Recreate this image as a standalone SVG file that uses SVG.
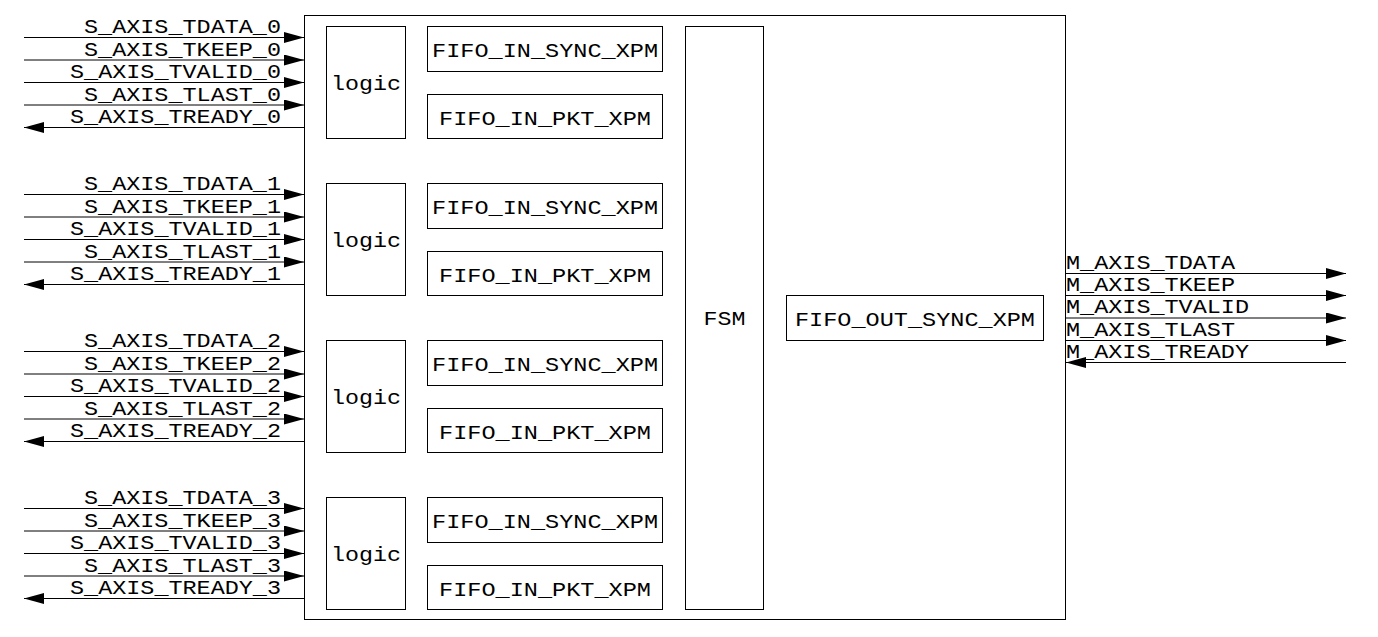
<svg xmlns="http://www.w3.org/2000/svg" width="1378" height="637" viewBox="0 0 1378 637">
<style>
.b{fill:#fff;stroke:#000;stroke-width:1}
.w{fill:none;stroke:#000;stroke-width:1}
text{font-family:"Liberation Mono","DejaVu Sans Mono",monospace;font-size:20px;fill:#000}
.e{text-anchor:end}
.m{text-anchor:middle}
</style>
<defs>
<marker id="ah" viewBox="0 0 20 11" refX="20" refY="5.5" markerWidth="20" markerHeight="11" markerUnits="userSpaceOnUse" orient="auto">
<path d="M0,0 L20,5.5 L0,11 z" fill="#000"/>
</marker>
</defs>
<rect width="1378" height="637" fill="#fff"/>
<g id="top">
<rect class="b" x="304.5" y="15.5" width="761" height="604"/>
</g>
<g id="connectors">
<g class="w" marker-end="url(#ah)">
<path d="M24,37.5 H304"/><path d="M24,60 H304"/><path d="M24,82.5 H304"/><path d="M24,105 H304"/><path d="M304,127.5 H24"/>
<path d="M24,194.5 H304"/><path d="M24,217 H304"/><path d="M24,239.5 H304"/><path d="M24,262 H304"/><path d="M304,284.5 H24"/>
<path d="M24,351.5 H304"/><path d="M24,374 H304"/><path d="M24,396.5 H304"/><path d="M24,419 H304"/><path d="M304,441.5 H24"/>
<path d="M24,508.5 H304"/><path d="M24,531 H304"/><path d="M24,553.5 H304"/><path d="M24,576 H304"/><path d="M304,598.5 H24"/>
<path d="M1066,273.5 H1346"/><path d="M1066,295.5 H1346"/><path d="M1066,318 H1346"/><path d="M1066,340.5 H1346"/><path d="M1346,362.5 H1066"/>
</g>
</g>
<g id="labels">
<text class="e" x="281" y="33" textLength="197" lengthAdjust="spacingAndGlyphs">S_AXIS_TDATA_0</text>
<text class="e" x="281" y="55.5" textLength="197" lengthAdjust="spacingAndGlyphs">S_AXIS_TKEEP_0</text>
<text class="e" x="281" y="78" textLength="211" lengthAdjust="spacingAndGlyphs">S_AXIS_TVALID_0</text>
<text class="e" x="281" y="100.5" textLength="197" lengthAdjust="spacingAndGlyphs">S_AXIS_TLAST_0</text>
<text class="e" x="281" y="123" textLength="211" lengthAdjust="spacingAndGlyphs">S_AXIS_TREADY_0</text>
<text class="e" x="281" y="190" textLength="197" lengthAdjust="spacingAndGlyphs">S_AXIS_TDATA_1</text>
<text class="e" x="281" y="212.5" textLength="197" lengthAdjust="spacingAndGlyphs">S_AXIS_TKEEP_1</text>
<text class="e" x="281" y="235" textLength="211" lengthAdjust="spacingAndGlyphs">S_AXIS_TVALID_1</text>
<text class="e" x="281" y="257.5" textLength="197" lengthAdjust="spacingAndGlyphs">S_AXIS_TLAST_1</text>
<text class="e" x="281" y="280" textLength="211" lengthAdjust="spacingAndGlyphs">S_AXIS_TREADY_1</text>
<text class="e" x="281" y="347" textLength="197" lengthAdjust="spacingAndGlyphs">S_AXIS_TDATA_2</text>
<text class="e" x="281" y="369.5" textLength="197" lengthAdjust="spacingAndGlyphs">S_AXIS_TKEEP_2</text>
<text class="e" x="281" y="392" textLength="211" lengthAdjust="spacingAndGlyphs">S_AXIS_TVALID_2</text>
<text class="e" x="281" y="414.5" textLength="197" lengthAdjust="spacingAndGlyphs">S_AXIS_TLAST_2</text>
<text class="e" x="281" y="437" textLength="211" lengthAdjust="spacingAndGlyphs">S_AXIS_TREADY_2</text>
<text class="e" x="281" y="504" textLength="197" lengthAdjust="spacingAndGlyphs">S_AXIS_TDATA_3</text>
<text class="e" x="281" y="526.5" textLength="197" lengthAdjust="spacingAndGlyphs">S_AXIS_TKEEP_3</text>
<text class="e" x="281" y="549" textLength="211" lengthAdjust="spacingAndGlyphs">S_AXIS_TVALID_3</text>
<text class="e" x="281" y="571.5" textLength="197" lengthAdjust="spacingAndGlyphs">S_AXIS_TLAST_3</text>
<text class="e" x="281" y="594" textLength="211" lengthAdjust="spacingAndGlyphs">S_AXIS_TREADY_3</text>
<text x="1066" y="268.5" textLength="169" lengthAdjust="spacingAndGlyphs">M_AXIS_TDATA</text>
<text x="1066" y="290.5" textLength="169" lengthAdjust="spacingAndGlyphs">M_AXIS_TKEEP</text>
<text x="1066" y="313" textLength="183" lengthAdjust="spacingAndGlyphs">M_AXIS_TVALID</text>
<text x="1066" y="335.5" textLength="169" lengthAdjust="spacingAndGlyphs">M_AXIS_TLAST</text>
<text x="1066" y="357.5" textLength="183" lengthAdjust="spacingAndGlyphs">M_AXIS_TREADY</text>
</g>
<g id="logic0"><rect class="b" x="326.5" y="26.5" width="79" height="112"/><text class="m" x="366" y="90" textLength="70" lengthAdjust="spacingAndGlyphs">logic</text></g>
<g id="logic1"><rect class="b" x="326.5" y="183.5" width="79" height="112"/><text class="m" x="366" y="247" textLength="70" lengthAdjust="spacingAndGlyphs">logic</text></g>
<g id="logic2"><rect class="b" x="326.5" y="340.5" width="79" height="112"/><text class="m" x="366" y="404" textLength="70" lengthAdjust="spacingAndGlyphs">logic</text></g>
<g id="logic3"><rect class="b" x="326.5" y="497.5" width="79" height="112"/><text class="m" x="366" y="561" textLength="70" lengthAdjust="spacingAndGlyphs">logic</text></g>
<g id="fifo_sync0"><rect class="b" x="427.5" y="26.5" width="235" height="45"/><text class="m" x="545" y="57" textLength="226" lengthAdjust="spacingAndGlyphs">FIFO_IN_SYNC_XPM</text></g>
<g id="fifo_pkt0"><rect class="b" x="427.5" y="94.5" width="235" height="44"/><text class="m" x="545" y="125" textLength="212" lengthAdjust="spacingAndGlyphs">FIFO_IN_PKT_XPM</text></g>
<g id="fifo_sync1"><rect class="b" x="427.5" y="183.5" width="235" height="45"/><text class="m" x="545" y="214" textLength="226" lengthAdjust="spacingAndGlyphs">FIFO_IN_SYNC_XPM</text></g>
<g id="fifo_pkt1"><rect class="b" x="427.5" y="251.5" width="235" height="44"/><text class="m" x="545" y="282" textLength="212" lengthAdjust="spacingAndGlyphs">FIFO_IN_PKT_XPM</text></g>
<g id="fifo_sync2"><rect class="b" x="427.5" y="340.5" width="235" height="45"/><text class="m" x="545" y="371" textLength="226" lengthAdjust="spacingAndGlyphs">FIFO_IN_SYNC_XPM</text></g>
<g id="fifo_pkt2"><rect class="b" x="427.5" y="408.5" width="235" height="44"/><text class="m" x="545" y="439" textLength="212" lengthAdjust="spacingAndGlyphs">FIFO_IN_PKT_XPM</text></g>
<g id="fifo_sync3"><rect class="b" x="427.5" y="497.5" width="235" height="45"/><text class="m" x="545" y="528" textLength="226" lengthAdjust="spacingAndGlyphs">FIFO_IN_SYNC_XPM</text></g>
<g id="fifo_pkt3"><rect class="b" x="427.5" y="565.5" width="235" height="44"/><text class="m" x="545" y="596" textLength="212" lengthAdjust="spacingAndGlyphs">FIFO_IN_PKT_XPM</text></g>
<g id="fsm"><rect class="b" x="685.5" y="26.5" width="78" height="583"/><text class="m" x="724.5" y="325" textLength="42" lengthAdjust="spacingAndGlyphs">FSM</text></g>
<g id="fifo_out"><rect class="b" x="786.5" y="295.5" width="257" height="45"/><text class="m" x="915" y="326" textLength="240" lengthAdjust="spacingAndGlyphs">FIFO_OUT_SYNC_XPM</text></g>
</svg>
